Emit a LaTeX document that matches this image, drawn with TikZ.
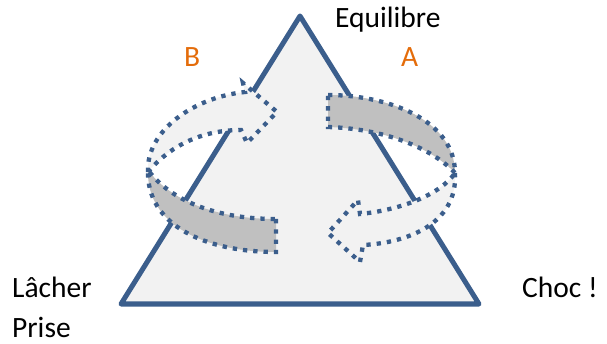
\documentclass[tikz,border=0pt]{standalone}
\usepackage{fontspec}
\setmainfont{Carlito}
\definecolor{navy}{HTML}{3B5E8C}
\definecolor{trifill}{HTML}{F2F2F2}
\definecolor{band}{HTML}{C0C0C0}
\definecolor{lbl}{HTML}{E46C0A}
\begin{document}
\begin{tikzpicture}[x=1pt,y=-1pt,
  edge/.style={draw=navy,line width=5pt,line join=round,fill=trifill},
  dots/.style={draw=navy,line width=4.3pt,dash pattern=on 4.3pt off 6pt},
  txt/.style={inner sep=0pt,anchor=base west,font=\fontsize{29.5pt}{35pt}\selectfont},
  ltr/.style={txt,text=lbl}]
\useasboundingbox (0,0) rectangle (607,344);
\coordinate (top) at (300,16);
\coordinate (bl) at (121,304);
\coordinate (br) at (479,304);
\draw[edge] (top) -- (br) -- (bl) -- cycle;
% arrow B
\path[dots,fill=band] (276,219) -- (276,252) .. controls (205,252) and (146,225) .. (148,170)
  .. controls (170,200) and (215,219) .. (276,219) -- cycle;
\path[dots,fill=trifill] (148,172) .. controls (146,130) and (195,97) .. (245,92) -- (243,83)
  -- (277,112) -- (247,143) -- (241,130) .. controls (210,130) and (175,140) .. (148,172) -- cycle;
% arrow A
\path[dots,fill=band] (328,95) .. controls (390,95) and (455,121) .. (455,173)
  .. controls (435,151) and (390,129) .. (328,127) -- cycle;
\path[dots,fill=trifill] (455,173) .. controls (458,225) and (405,243) .. (363,245) -- (360,262)
  -- (328,233) -- (358,200) -- (360,214) .. controls (400,210) and (440,195) .. (455,173) -- cycle;
% texts
\node[txt] (eq) at (335,28) {Equilibre};
\node[ltr] (b) at (184,67) {B};
\node[ltr] (a) at (401,67) {A};
\node[txt] (lacher) at (12,298) {Lâcher};
\node[txt] (prise) at (12,337) {Prise};
\node[txt] (choc) at (522,298) {Choc !};
\end{tikzpicture}
\end{document}
